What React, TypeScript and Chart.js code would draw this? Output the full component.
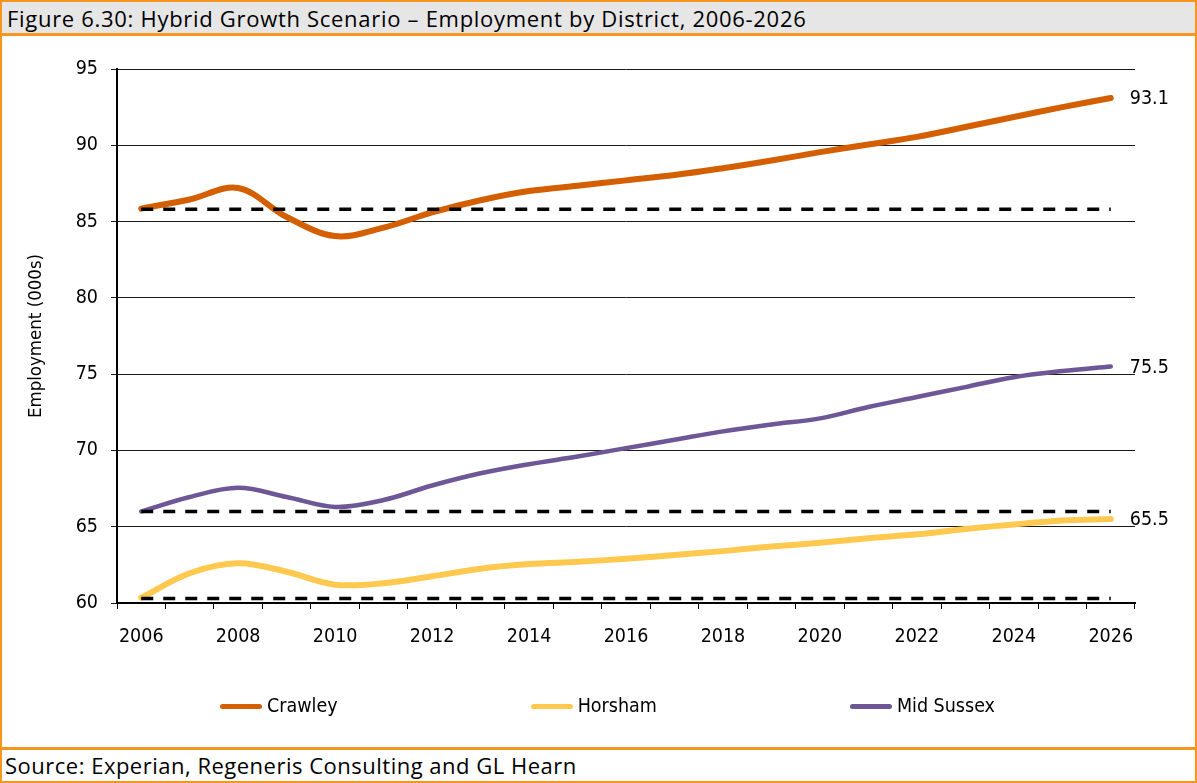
import React, { useEffect, useRef } from "react";
import { Chart, registerables } from "chart.js";

Chart.register(...registerables);

const TITLE = "Figure 6.30: Hybrid Growth Scenario – Employment by District, 2006-2026";
const SOURCE = "Source: Experian, Regeneris Consulting and GL Hearn";
const Y_TITLE = "Employment (000s)";

const YEARS = ["2006", "2007", "2008", "2009", "2010", "2011", "2012", "2013", "2014", "2015", "2016", "2017", "2018", "2019", "2020", "2021", "2022", "2023", "2024", "2025", "2026"];
const CRAWLEY = [85.85, 86.45, 87.2, 85.3, 84.05, 84.6, 85.6, 86.4, 87.0, 87.35, 87.7, 88.05, 88.5, 89.0, 89.55, 90.05, 90.55, 91.2, 91.85, 92.5, 93.1];
const HORSHAM = [60.35, 61.95, 62.6, 62.05, 61.2, 61.3, 61.75, 62.25, 62.55, 62.7, 62.9, 63.15, 63.4, 63.7, 63.95, 64.25, 64.5, 64.85, 65.15, 65.4, 65.5];
const MID_SUSSEX = [66.0, 66.95, 67.55, 66.95, 66.3, 66.75, 67.7, 68.5, 69.1, 69.6, 70.15, 70.7, 71.25, 71.7, 72.1, 72.85, 73.5, 74.15, 74.8, 75.2, 75.5];
const BASELINES = [85.8, 60.3, 66.0];
const SERIES_NAMES = ["Crawley", "Horsham", "Mid Sussex"];
const SERIES_COLORS = ["#D45F00", "#FFC94F", "#6E5796"];
const SERIES_WIDTHS = [6, 6, 4.5];
const Y_MIN = 60;
const Y_MAX = 95;
const Y_STEP = 5;

const ORANGE = "#F7961E";
const FONT = "'DejaVu Sans Condensed', 'DejaVu Sans', sans-serif";
const TITLE_FONT = "'Open Sans', Lato, sans-serif";

const endLabels = {
  id: "endLabels",
  afterDatasetsDraw(chart: any) {
    const ctx = chart.ctx;
    ctx.save();
    ctx.font = `19.5px ${FONT}`;
    ctx.fillStyle = "#000";
    ctx.textAlign = "left";
    ctx.textBaseline = "middle";
    chart.data.datasets.forEach((ds: any, i: number) => {
      if (!ds.endLabel) return;
      const meta = chart.getDatasetMeta(i);
      const pts = meta.data;
      const last = pts[pts.length - 1];
      const v = ds.data[ds.data.length - 1];
      ctx.fillText(Number(v).toFixed(1), last.x + 19, last.y + 1);
    });
    ctx.restore();
  },
};

export default function App() {
  const canvasRef = useRef<HTMLCanvasElement | null>(null);

  useEffect(() => {
    if (!canvasRef.current) return;
    const seriesData = [CRAWLEY, HORSHAM, MID_SUSSEX];
    const dashed = BASELINES.map((b) => ({
      label: "baseline",
      data: [
        { x: YEARS[0], y: b },
        { x: YEARS[YEARS.length - 1], y: b },
      ],
      borderColor: "#000",
      borderWidth: 3.5,
      borderDash: [12, 10],
      pointRadius: 0,
      tension: 0,
      fill: false,
      endLabel: false,
    }));
    const series = SERIES_NAMES.map((name, i) => ({
      label: name,
      data: seriesData[i],
      borderColor: SERIES_COLORS[i],
      backgroundColor: SERIES_COLORS[i],
      borderWidth: SERIES_WIDTHS[i],
      borderCapStyle: "round",
      borderJoinStyle: "round",
      pointRadius: 0,
      tension: 0.35,
      fill: false,
      endLabel: true,
    }));

    const chart = new Chart(canvasRef.current, {
      type: "line",
      data: { labels: YEARS, datasets: [...dashed, ...series] as any },
      plugins: [endLabels],
      options: {
        animation: false,
        responsive: true,
        maintainAspectRatio: false,
        layout: { padding: { left: 0, right: 60, top: 33, bottom: 84 } },
        plugins: {
          legend: { display: false },
          tooltip: { enabled: false },
          title: { display: false },
        },
        scales: {
          x: {
            type: "category",
            offset: true,
            border: { display: true, color: "#000", width: 2 },
            grid: {
              offset: true,
              drawOnChartArea: false,
              drawTicks: true,
              tickLength: 6,
              color: "#000",
              lineWidth: 1,
            },
            ticks: {
              autoSkip: false,
              maxRotation: 0,
              minRotation: 0,
              padding: 16,
              color: "#000",
              font: { family: FONT, size: 19.5 },
              callback: (_v: any, idx: number) => (idx % 2 === 0 ? YEARS[idx] : ""),
            },
            afterFit: (scale: any) => {
              scale.height = 60;
            },
          },
          y: {
            min: Y_MIN,
            max: Y_MAX,
            border: { display: true, color: "#000", width: 2 },
            grid: {
              color: "#1a1a1a",
              lineWidth: 1,
              drawTicks: true,
              tickLength: 6,
            },
            ticks: {
              stepSize: Y_STEP,
              padding: 13,
              color: "#000",
              font: { family: FONT, size: 19.5 },
            },
            title: {
              display: true,
              text: Y_TITLE,
              color: "#000",
              font: { family: FONT, size: 18.5 },
              padding: { top: 23, bottom: 0 },
            },
            afterFit: (scale: any) => {
              scale.width = 115;
            },
          },
        },
      } as any,
    });
    return () => chart.destroy();
  }, []);

  return (
    <div
      style={{
        position: "absolute",
        left: 0,
        top: 0,
        width: 1197,
        height: 783,
        boxSizing: "border-box",
        border: `2px solid ${ORANGE}`,
        background: "#fff",
        overflow: "hidden",
      }}
    >
      <div
        style={{
          height: 31,
          background: "#E6E6E6",
          borderBottom: `3px solid ${ORANGE}`,
          fontFamily: TITLE_FONT,
          fontSize: 22,
          letterSpacing: "0.7px",
          lineHeight: "32px",
          paddingLeft: 5,
          whiteSpace: "nowrap",
          color: "#000",
        }}
      >
        {TITLE}
      </div>
      <div style={{ position: "relative", width: 1193, height: 711 }}>
        <canvas ref={canvasRef} />
        <div
          style={{
            position: "absolute",
            left: 218,
            top: 657,
            display: "flex",
            alignItems: "center",
            gap: 193,
            fontFamily: FONT,
            fontSize: 19.5,
            color: "#000",
            whiteSpace: "nowrap",
          }}
        >
          {SERIES_NAMES.map((name, i) => (
            <div key={name} style={{ display: "flex", alignItems: "center" }}>
              <div
                style={{
                  width: 42,
                  height: 5,
                  borderRadius: 3,
                  background: SERIES_COLORS[i],
                  marginRight: 5,
                }}
              />
              <span style={{ lineHeight: "26px" }}>{name}</span>
            </div>
          ))}
        </div>
      </div>
      <div
        style={{
          height: 31,
          borderTop: `3px solid ${ORANGE}`,
          fontFamily: TITLE_FONT,
          fontSize: 22,
          letterSpacing: "0.5px",
          lineHeight: "31px",
          paddingLeft: 3,
          whiteSpace: "nowrap",
          color: "#000",
        }}
      >
        {SOURCE}
      </div>
    </div>
  );
}
